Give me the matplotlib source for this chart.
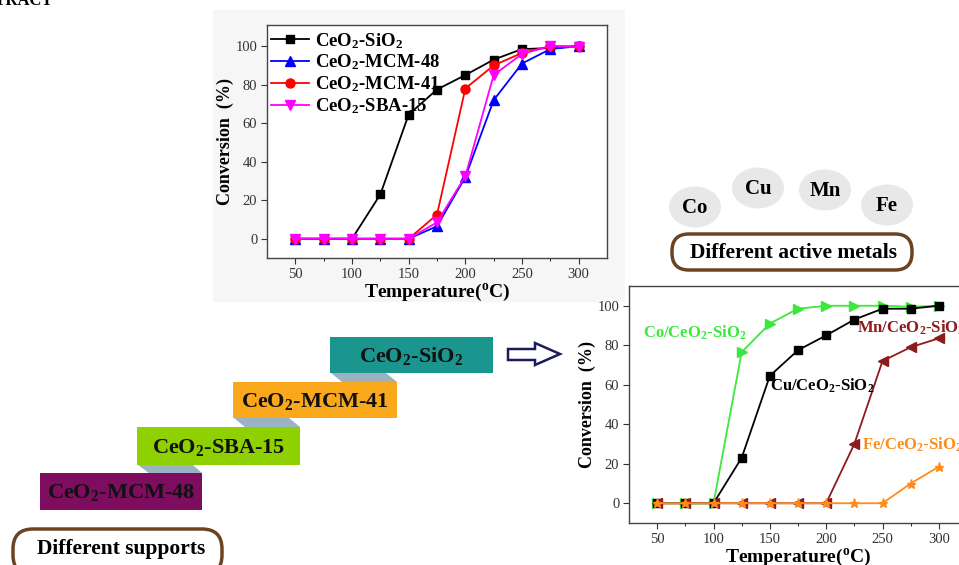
import matplotlib
matplotlib.use('Agg')
import matplotlib.pyplot as plt
from matplotlib.patches import Rectangle, Polygon, Ellipse, FancyBboxPatch

plt.rcParams['font.family'] = 'Liberation Serif'
plt.rcParams['mathtext.fontset'] = 'custom'
plt.rcParams['mathtext.rm'] = 'Liberation Serif:bold'
plt.rcParams['mathtext.bf'] = 'Liberation Serif:bold'
plt.rcParams['mathtext.it'] = 'Liberation Serif:bold'

# ---- data ----
temps = [50, 75, 100, 125, 150, 175, 200, 225, 250, 275, 300]

# supports (top chart)
ceo2_sio2 = [0, 0, 0, 23, 64.5, 77.5, 85, 93, 98.5, 99, 100]
ceo2_mcm48 = [0, 0, 0, 0, 0, 6.5, 32, 72, 91, 98.5, 100]
ceo2_mcm41 = [0, 0, 0, 0, 0, 12.5, 78, 90, 96.5, 100, 100]
ceo2_sba15 = [0, 0, 0, 0, 0, 8.5, 32.5, 85, 96, 100, 99.5]
support_names = [r'CeO$_\mathbf{2}$-SiO$_\mathbf{2}$', r'CeO$_\mathbf{2}$-MCM-48',
                 r'CeO$_\mathbf{2}$-MCM-41', r'CeO$_\mathbf{2}$-SBA-15']

# active metals (bottom chart)
co_cat = [0, 0, 0, 76.5, 91, 98.5, 100, 100, 100, 99.5, 100]
cu_cat = [0, 0, 0, 23, 64.5, 77.5, 85, 93, 98.5, 98.5, 100]
mn_cat = [0, 0, 0, 0, 0, 0, 0, 30, 72, 79, 83.5]
fe_cat = [0, 0, 0, 0, 0, 0, 0, 0, 0, 10, 18.5]
metal_names = [r'Co/CeO$_\mathbf{2}$-SiO$_\mathbf{2}$', r'Cu/CeO$_\mathbf{2}$-SiO$_\mathbf{2}$',
               r'Mn/CeO$_\mathbf{2}$-SiO$_\mathbf{2}$', r'Fe/CeO$_\mathbf{2}$-SiO$_\mathbf{2}$']

steps = [r'CeO$_\mathbf{2}$-MCM-48', r'CeO$_\mathbf{2}$-SBA-15',
         r'CeO$_\mathbf{2}$-MCM-41', r'CeO$_\mathbf{2}$-SiO$_\mathbf{2}$']
metals = ['Co', 'Cu', 'Mn', 'Fe']

W, H = 959, 565
fig = plt.figure(figsize=(W/100., H/100.), dpi=100)

# overlay in pixel coords for the scheme parts
ov = fig.add_axes([0, 0, 1, 1], zorder=0)
ov.set_xlim(0, W)
ov.set_ylim(H, 0)
ov.axis('off')

ov.text(53, 5, 'ABSTRACT', ha='right', va='baseline', fontsize=12, fontweight='bold')

# faint backdrop of the pasted top chart
ov.add_patch(Rectangle((213, 10), 412, 292, fc='#f6f6f6', ec='none'))

# staircase of supports
box_cols = ['#7e0c5f', '#8fd000', '#f9a71b', '#1a968f']
boxes = [(40, 473, 162, 37), (137, 427, 163, 38), (233, 382, 164, 36), (330, 337, 163, 36)]
conn_col = '#9ab3c3'
for i in range(3):
    x0, y0, w0, h0 = boxes[i + 1]
    x1, y1, w1, h1 = boxes[i]
    ov.add_patch(Polygon([(x0 + 1, y0 + h0), (x0 + 56, y0 + h0), (x1 + w1, y1), (x0 + 12, y1)],
                         closed=True, fc=conn_col, ec='none'))
for (x, y, w, h), c, s in zip(boxes, box_cols, steps):
    ov.add_patch(Rectangle((x, y), w, h, fc=c, ec='none'))
    ov.text(x + w/2., y + h/2. + 1, s, ha='center', va='center', fontsize=16,
            fontweight='bold', color='#111111')

# hollow arrow
ov.add_patch(Polygon([(508, 349), (535, 349), (535, 343), (560, 354), (535, 365),
                      (535, 360), (508, 360)], closed=True, fc='white', ec='#1c1c5a', lw=1.8))

# oval labels
brown = '#6b4424'
ov.add_patch(FancyBboxPatch((13, 529), 209, 46, boxstyle='round,pad=0,rounding_size=20',
                            fc='white', ec=brown, lw=2.5))
ov.text(121, 549, 'Different supports', ha='center', va='center', fontsize=15.5, fontweight='bold')
ov.add_patch(FancyBboxPatch((672, 234), 240, 36, boxstyle='round,pad=0,rounding_size=17',
                            fc='white', ec=brown, lw=2.5))
ov.text(793, 253, 'Different active metals', ha='center', va='center', fontsize=15.5,
        fontweight='bold')

metal_xy = [(695, 207), (758, 188), (825, 190), (887, 205)]
for (x, y), m in zip(metal_xy, metals):
    ov.add_patch(Ellipse((x, y), 52, 41, fc='#e8e8e8', ec='none'))
    ov.text(x, y + 1, m, ha='center', va='center', fontsize=15, fontweight='bold')


def style_axes(ax, fs):
    ax.set_xlim(25, 325)
    ax.set_xticks([50, 100, 150, 200, 250, 300])
    ax.set_yticks([0, 20, 40, 60, 80, 100])
    ax.tick_params(direction='out', length=4, width=0.8, labelsize=fs, colors='#333333', pad=3)
    ax.set_xticks([75, 125, 175, 225, 275], minor=True)
    ax.tick_params(which='minor', direction='out', length=2)
    for sp in ax.spines.values():
        sp.set_color('#444444')
        sp.set_linewidth(1.0)
    ax.set_facecolor('white')


# ---- top chart: different supports ----
ax1 = fig.add_axes([267/959., 1 - 258/565., 340/959., 233/565.], zorder=2)
ax1.plot(temps, ceo2_sio2, '-s', color='black', ms=5.5, lw=1.3, label=support_names[0])
ax1.plot(temps, ceo2_mcm48, '-^', color='#0000ff', ms=6.5, lw=1.3, label=support_names[1])
ax1.plot(temps, ceo2_mcm41, '-o', color='#ff0000', ms=6.5, lw=1.3, label=support_names[2])
ax1.plot(temps, ceo2_sba15, '-v', color='#ff00ff', ms=6.5, lw=1.3, label=support_names[3])
ax1.set_ylim(-10, 111)
style_axes(ax1, 10.5)
ax1.set_ylabel('Conversion  (%)', fontsize=13, fontweight='bold', labelpad=1)
ax1.set_xlabel(r'Temperature($^{\mathbf{o}}$C)', fontsize=14, fontweight='bold', labelpad=1)
ax1.legend(loc='upper left', bbox_to_anchor=(0.012, 0.975), frameon=False, borderpad=0,
           borderaxespad=0, handlelength=2.0, handletextpad=0.35, labelspacing=0.12,
           prop={'family': 'Liberation Serif', 'weight': 'bold', 'size': 13.5})

# ---- bottom chart: different active metals ----
ax2 = fig.add_axes([629/959., 1 - 523/565., 338/959., 237/565.], zorder=2)
ax2.plot(temps, co_cat, '->', color='#3ce83c', ms=6.5, lw=1.3)
ax2.plot(temps, cu_cat, '-s', color='black', ms=5.5, lw=1.3)
ax2.plot(temps, mn_cat, '-<', color='#8b1c1c', ms=6.5, lw=1.3)
ax2.plot(temps, fe_cat, '-*', color='#ff8c1a', ms=6.5, lw=1.3)
ax2.set_ylim(-10, 110)
style_axes(ax2, 10.5)
ax2.set_ylabel('Conversion  (%)', fontsize=13, fontweight='bold', labelpad=1)
ax2.set_xlabel(r'Temperature($^{\mathbf{o}}$C)', fontsize=14, fontweight='bold', labelpad=1)
lab_pos = [(37.5, 86.5), (150, 59.5), (227, 89), (231.5, 29.5)]
lab_col = ['#3ce83c', 'black', '#8b1c1c', '#ff8c1a']
for (x, y), s, c in zip(lab_pos, metal_names, lab_col):
    ax2.text(x, y, s, ha='left', va='center', fontsize=12, fontweight='bold', color=c,
             clip_on=False)

fig.savefig('out.png', dpi=100)
